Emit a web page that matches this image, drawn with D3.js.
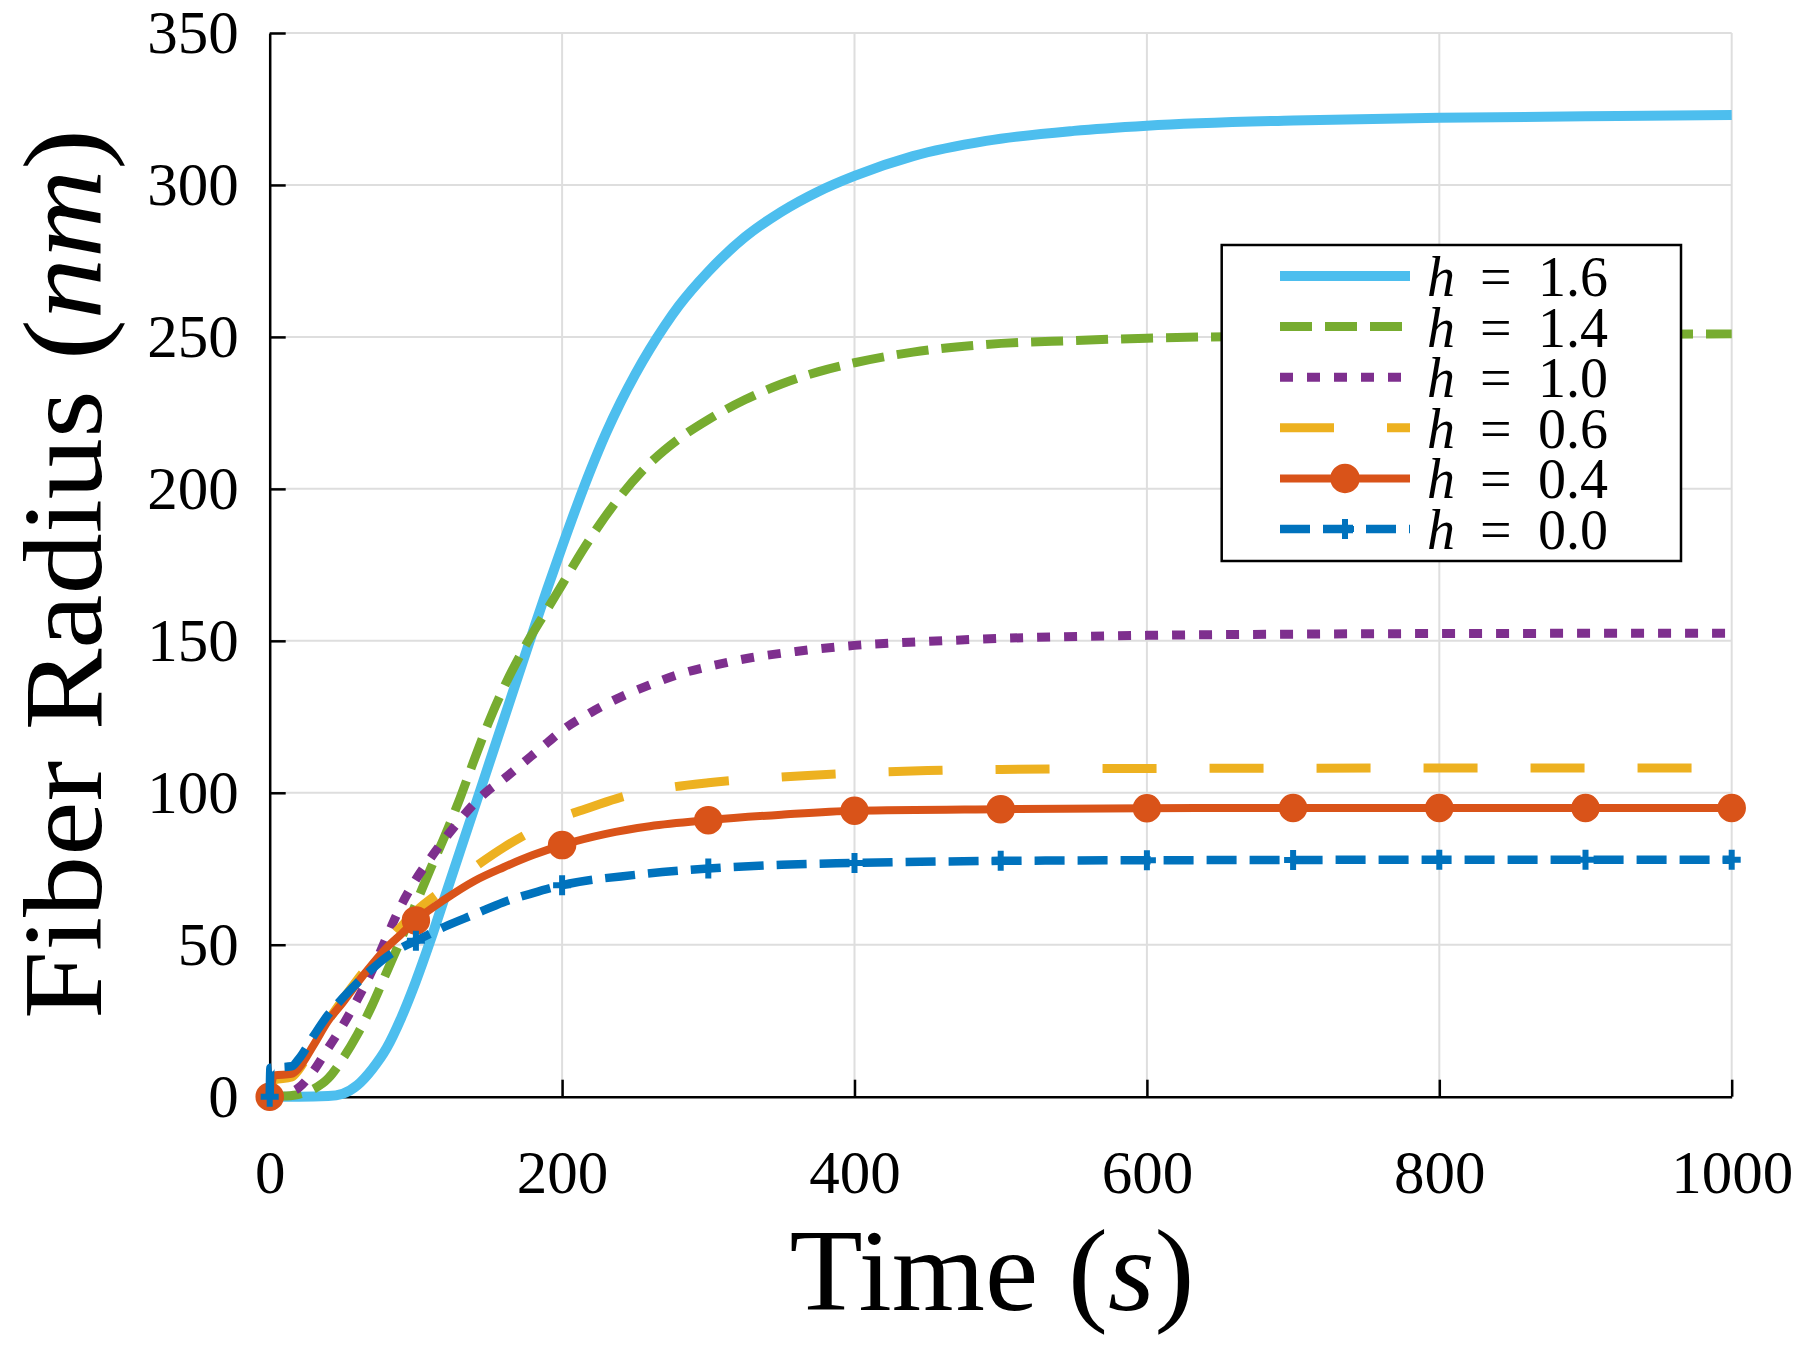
<!DOCTYPE html>
<html>
<head>
<meta charset="utf-8">
<script src="https://cdn.jsdelivr.net/npm/d3@7"></script>
<style>
  html, body { margin: 0; padding: 0; background: #fff; }
  svg { display: block; }
  text { font-family: "Liberation Serif", "Times New Roman", serif; fill: #000; }
</style>
</head>
<body>
<svg id="chart" width="1800" height="1349"></svg>
<script>
// ---------------- data ----------------
const xTicks = [0, 200, 400, 600, 800, 1000];
const yTicks = [0, 50, 100, 150, 200, 250, 300, 350];
const markerT = [0, 100, 200, 300, 400, 500, 600, 700, 800, 900, 1000];
const legendLabels = ["1.6", "1.4", "1.0", "0.6", "0.4", "0.0"];

const t16 = [0,20,40,50,60,70,80,90,100,110,120,130,140,150,160,170,180,190,200,210,220,230,240,250,260,270,280,300,325,350,375,400,440,490,550,600,700,800,900,1000];
const r16 = [0,0,0.2,1,3.8,9,16,26,38,51.5,66,80.5,95,109.5,124,138.5,153,167.3,181,194.3,206.8,218.3,228.5,237.7,246,253.5,260.3,271.5,282.8,291.2,297.8,303,309.5,314.5,317.8,319.5,321.2,322.1,322.6,323];

const t14 = [0,10,20,30,40,50,60,70,80,90,100,110,120,130,140,150,160,175,190,200,215,235,255,280,300,325,350,375,400,440,490,550,600,700,800,900,1000];
const r14 = [0,0.2,0.8,2.5,6,12.5,20.5,30,41,52,63.5,75,86,98,111,123.5,134.5,148.5,160.5,168.5,180.5,194.5,206,216.5,222.8,229.3,234.5,238.5,241.5,245,247.5,248.8,249.6,250.3,250.6,250.8,251];

const t10 = [0,10,20,30,40,50,60,70,80,90,100,110,120,130,140,150,160,170,180,190,200,220,240,260,280,300,330,360,400,450,500,600,700,800,1000];
const r10 = [0,0.8,3,8.5,16,23.5,32,41.5,52.5,63,71.5,78.5,85,91,96.5,101,104.5,108.5,112.5,116.5,120.5,126.5,131.5,135.5,139,141.5,144.5,146.5,148.5,149.8,150.8,151.8,152.2,152.4,152.5];

const t06 = [0,3,15,20,30,40,50,60,70,80,90,100,120,140,160,180,200,220,240,270,300,350,400,450,500,600,1000];
const r06 = [0,5.5,6.5,9,17,25,32,38.5,44.5,50.5,56,61,68.5,75.5,82,87.5,92,95.3,98.5,101.5,103.3,105.2,106.5,107.3,107.7,108,108.2];

const t04 = [0,3,15,20,30,40,50,60,70,80,90,100,120,140,160,180,200,230,260,300,350,400,500,600,700,800,900,1000];
const r04 = [0,7,7.5,9.5,17,25,31,37.5,43.5,49,53.5,58,65,71,75.5,79.5,82.8,86.5,89,91,92.8,94.1,94.6,94.9,95,95,95,95];

const t00 = [0,0.5,15,20,30,40,50,60,70,80,90,100,120,140,160,180,200,250,300,350,400,500,600,700,800,900,1000];
const r00 = [0,9.5,10,12.5,20,27,32.5,37.5,42,46,49,51.3,56,60,64,67,69.6,73,75.1,76.3,76.9,77.6,77.8,77.9,78,78,78];

// ---------------- series styling ----------------
const series = [
  { t: t16, r: r16, color: "#4DBEEE", width: 10, dash: null,    marker: null },
  { t: t14, r: r14, color: "#77AC30", width: 9,  dash: "32,13", marker: null },
  { t: t10, r: r10, color: "#7E2F8E", width: 9,  dash: "13,14", marker: null },
  { t: t06, r: r06, color: "#EDB120", width: 9,  dash: "54,53", marker: null },
  { t: t04, r: r04, color: "#D95319", width: 8,  dash: null,    marker: "circle" },
  { t: t00, r: r00, color: "#0072BD", width: 8.5,dash: "30,13", marker: "plus" }
];

// ---------------- layout ----------------
const svg = d3.select("#chart");
const x = d3.scaleLinear().domain([0, 1000]).range([269.7, 1731.7]);
const y = d3.scaleLinear().domain([0, 350]).range([1096.7, 33]);

// grid
const grid = svg.append("g");
grid.selectAll("line.v").data(xTicks.slice(1)).join("line")
  .attr("x1", d => x(d)).attr("x2", d => x(d))
  .attr("y1", y(0)).attr("y2", y(350))
  .attr("stroke", "#dedede").attr("stroke-width", 2);
grid.selectAll("line.h").data(yTicks.slice(1)).join("line")
  .attr("x1", x(0)).attr("x2", x(1000))
  .attr("y1", d => y(d)).attr("y2", d => y(d))
  .attr("stroke", "#dedede").attr("stroke-width", 2);

// axes
const fmt = d3.format("d");
const yAxis = d3.axisLeft(y).tickValues(yTicks).tickFormat(fmt).tickSizeInner(-16).tickSizeOuter(0).tickPadding(31);
const xAxis = d3.axisBottom(x).tickValues(xTicks).tickFormat(fmt).tickSizeInner(-17).tickSizeOuter(0).tickPadding(53);

const gy = svg.append("g").attr("transform", `translate(${x(0)},0)`).call(yAxis);
const gx = svg.append("g").attr("transform", `translate(0,${y(0)})`).call(xAxis);
[gx, gy].forEach(g => {
  g.attr("font-family", "Liberation Serif, serif");
  g.select(".domain").attr("stroke", "#000").attr("stroke-width", 2.5);
  g.selectAll(".tick line").attr("stroke", "#000").attr("stroke-width", 2.5);
  g.selectAll(".tick text")
    .attr("font-family", "Liberation Serif, serif")
    .attr("font-size", 61).attr("fill", "#000");
});

// lines
const line = d3.line().x(d => x(d[0])).y(d => y(d[1])).curve(d3.curveMonotoneX);
const plotG = svg.append("g");
series.forEach(s => {
  const pts = s.t.map((tt, i) => [tt, s.r[i]]);
  plotG.append("path")
    .attr("d", line(pts))
    .attr("fill", "none")
    .attr("stroke", s.color)
    .attr("stroke-width", s.width)
    .attr("stroke-linejoin", "round")
    .attr("stroke-dasharray", s.dash);
  if (s.marker) {
    const mpts = markerT.map(mt => [mt, s.r[s.t.indexOf(mt)]]);
    if (s.marker === "circle") {
      plotG.selectAll(null).data(mpts).join("circle")
        .attr("cx", d => x(d[0])).attr("cy", d => y(d[1])).attr("r", 13.5)
        .attr("fill", s.color).attr("stroke", s.color).attr("stroke-width", 1.5);
    } else {
      plotG.selectAll(null).data(mpts).join("path")
        .attr("transform", d => `translate(${x(d[0])},${y(d[1])})`)
        .attr("d", "M-9,0H9M0,-10V10")
        .attr("stroke", s.color).attr("stroke-width", 6).attr("fill", "none");
    }
  }
});

// axis titles
svg.append("text")
  .attr("transform", `translate(101,574) rotate(-90)`)
  .attr("text-anchor", "middle")
  .attr("font-size", 112)
  .attr("textLength", 890).attr("lengthAdjust", "spacingAndGlyphs")
  .html('Fiber Radius (<tspan font-style="italic">nm</tspan>)');

svg.append("text")
  .attr("x", 992).attr("y", 1310)
  .attr("text-anchor", "middle")
  .attr("font-size", 116)
  .attr("textLength", 405).attr("lengthAdjust", "spacingAndGlyphs")
  .html('Time (<tspan font-style="italic">s</tspan>)');

// legend
const lg = svg.append("g");
lg.append("rect")
  .attr("x", 1221.7).attr("y", 245).attr("width", 459.3).attr("height", 316)
  .attr("fill", "#fff").attr("stroke", "#000").attr("stroke-width", 2.5);
const rowY0 = 276, rowStep = 50.6, lx1 = 1280, lx2 = 1410;
series.forEach((s, i) => {
  const cy = rowY0 + i * rowStep;
  lg.append("line")
    .attr("x1", lx1).attr("x2", lx2).attr("y1", cy).attr("y2", cy)
    .attr("stroke", s.color).attr("stroke-width", s.width)
    .attr("stroke-dasharray", s.dash);
  const mx = (lx1 + lx2) / 2;
  if (s.marker === "circle") {
    lg.append("circle").attr("cx", mx).attr("cy", cy).attr("r", 14)
      .attr("fill", s.color).attr("stroke", s.color).attr("stroke-width", 1.5);
  } else if (s.marker === "plus") {
    lg.append("path").attr("transform", `translate(${mx},${cy})`)
      .attr("d", "M-9,0H9M0,-10V10")
      .attr("stroke", s.color).attr("stroke-width", 6).attr("fill", "none");
  }
  const tx = lg.append("text").attr("y", cy + 20).attr("font-size", 56);
  tx.append("tspan").attr("x", 1427).attr("font-style", "italic").text("h");
  tx.append("tspan").attr("x", 1480).text("=");
  tx.append("tspan").attr("x", 1538).text(legendLabels[i]);
});
</script>
</body>
</html>
